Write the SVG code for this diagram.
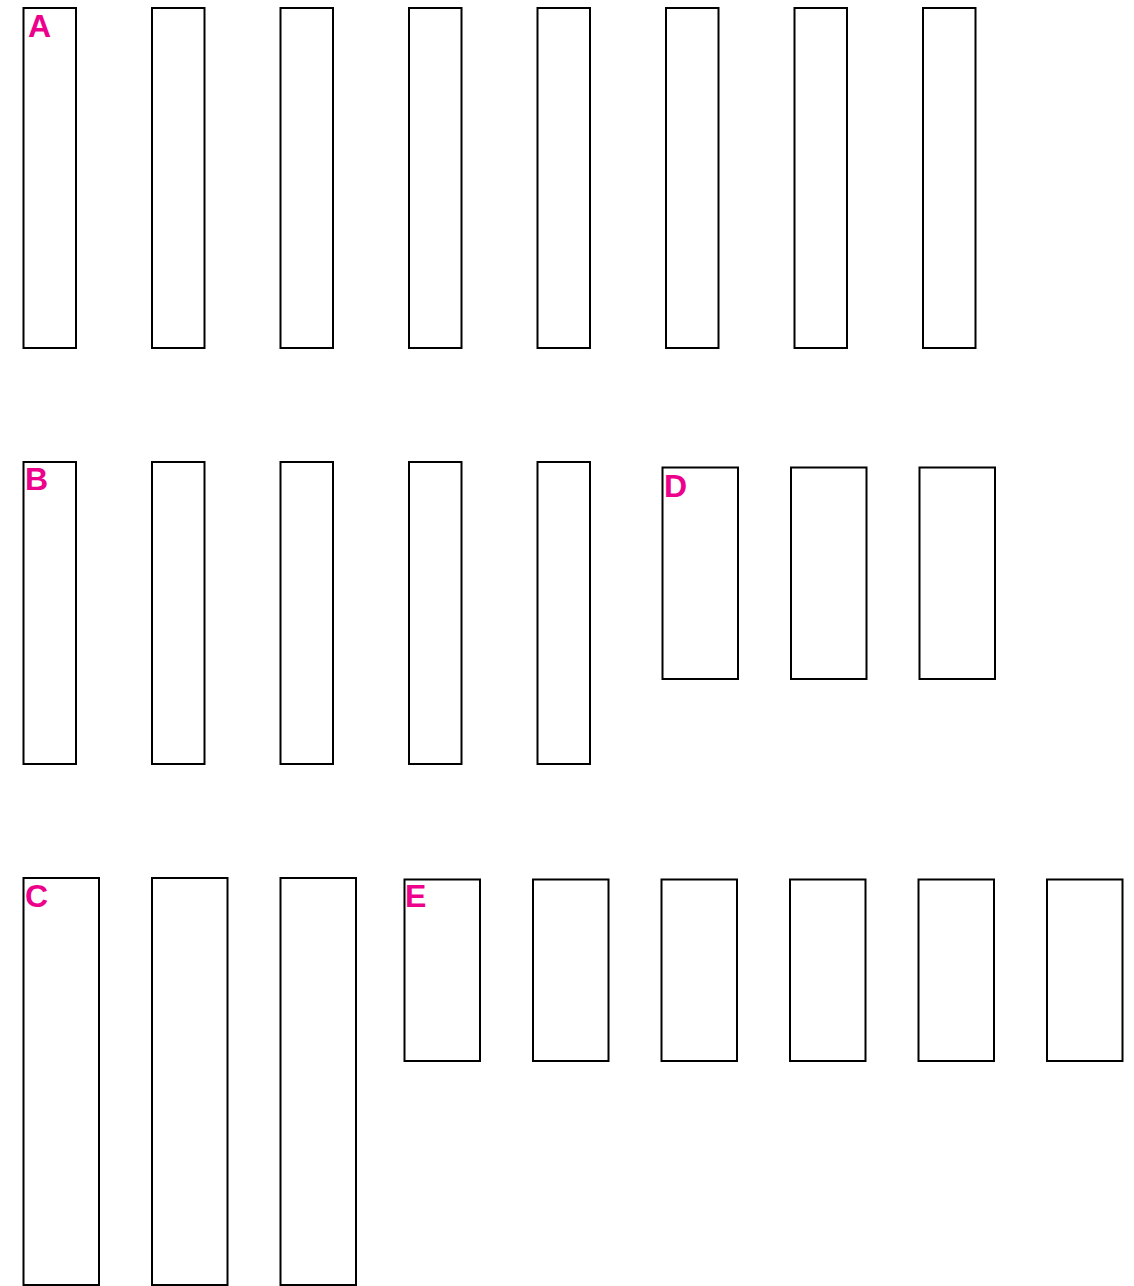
<svg xmlns="http://www.w3.org/2000/svg" width="1134" height="1286" viewBox="0 0 1134 1286">
<style>
rect.b{fill:#fff;stroke:#000;stroke-width:2}
text{font-family:"Liberation Sans",Arial,sans-serif;font-weight:bold;font-size:32px;fill:#EC008C}
</style>
<rect width="1134" height="1286" fill="#fff"/>
<g id="rowA">
<rect class="b" x="23.5" y="8" width="52.5" height="340"/>
<rect class="b" x="152" y="8" width="52.5" height="340"/>
<rect class="b" x="280.5" y="8" width="52.5" height="340"/>
<rect class="b" x="409" y="8" width="52.5" height="340"/>
<rect class="b" x="537.5" y="8" width="52.5" height="340"/>
<rect class="b" x="666" y="8" width="52.5" height="340"/>
<rect class="b" x="794.5" y="8" width="52.5" height="340"/>
<rect class="b" x="923" y="8" width="52.5" height="340"/>
<text x="28" y="37">A</text>
</g>
<g id="rowB">
<rect class="b" x="23.5" y="462" width="52.5" height="302"/>
<rect class="b" x="152" y="462" width="52.5" height="302"/>
<rect class="b" x="280.5" y="462" width="52.5" height="302"/>
<rect class="b" x="409" y="462" width="52.5" height="302"/>
<rect class="b" x="537.5" y="462" width="52.5" height="302"/>
<text x="25" y="490">B</text>
</g>
<g id="rowD">
<rect class="b" x="662.5" y="467.5" width="75.5" height="211.5"/>
<rect class="b" x="791" y="467.5" width="75.5" height="211.5"/>
<rect class="b" x="919.5" y="467.5" width="75.5" height="211.5"/>
<text x="664" y="497">D</text>
</g>
<g id="rowC">
<rect class="b" x="23.5" y="878" width="75.5" height="407"/>
<rect class="b" x="152" y="878" width="75.5" height="407"/>
<rect class="b" x="280.5" y="878" width="75.5" height="407"/>
<text x="25" y="907">C</text>
</g>
<g id="rowE">
<rect class="b" x="404.5" y="879.5" width="75.5" height="181.5"/>
<rect class="b" x="533" y="879.5" width="75.5" height="181.5"/>
<rect class="b" x="661.5" y="879.5" width="75.5" height="181.5"/>
<rect class="b" x="790" y="879.5" width="75.5" height="181.5"/>
<rect class="b" x="918.5" y="879.5" width="75.5" height="181.5"/>
<rect class="b" x="1047" y="879.5" width="75.5" height="181.5"/>
<text x="405" y="907">E</text>
</g>
<g id="connectors"></g>
</svg>
